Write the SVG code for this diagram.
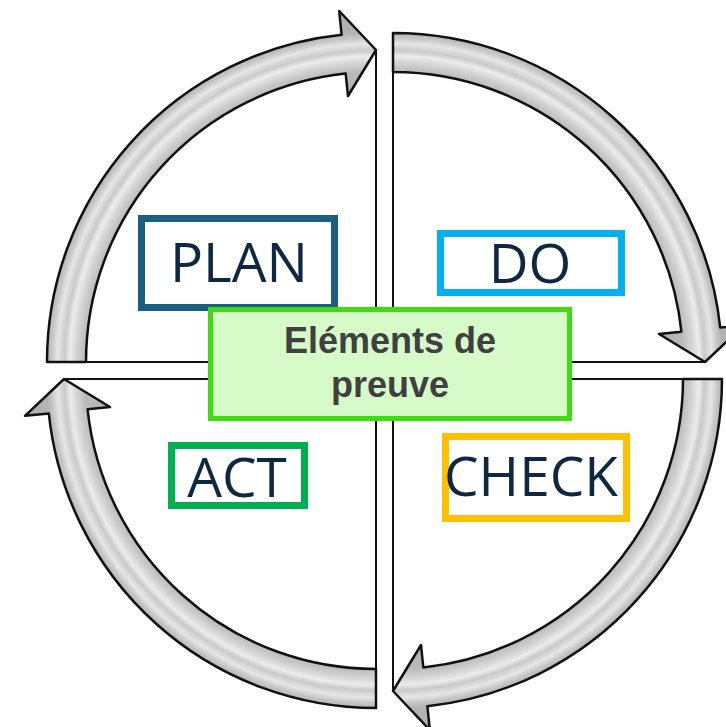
<svg xmlns="http://www.w3.org/2000/svg" width="726" height="727" viewBox="0 0 726 727">
  <defs>
    <radialGradient id="band" gradientUnits="userSpaceOnUse" cx="0" cy="0" r="360">
      <stop offset="0.74" stop-color="#b0b0b0"/>
      <stop offset="0.806" stop-color="#bababa"/>
      <stop offset="0.83" stop-color="#d2d2d2"/>
      <stop offset="0.85" stop-color="#ececec"/>
      <stop offset="0.865" stop-color="#cacaca"/>
      <stop offset="0.885" stop-color="#e6e6e6"/>
      <stop offset="0.9" stop-color="#c8c8c8"/>
      <stop offset="0.914" stop-color="#b4b4b4"/>
      <stop offset="0.98" stop-color="#aeaeae"/>
    </radialGradient>
    <path id="arrow" d="M -329,0 A 329 329 0 0 1 -34.4,-327.2 L -36.8,-351 L 0,-312 L -28,-266 L -30.3,-288.4 A 290 290 0 0 0 -290,0 Z"/>
    <path id="edges" d="M 0,-312 L 0,0 L -329,0"/>
  </defs>
  <style>
    .arr { fill: url(#band); stroke: #111111; stroke-width: 2.5; stroke-linejoin: round; }
    .edge { fill: none; stroke: #111111; stroke-width: 2; }
    .box { fill: #ffffff; stroke-width: 7; }
    .lbl { font-family: "Open Sans", "Noto Sans", sans-serif; font-size: 55px; fill: #0e2841; text-anchor: middle; }
    .ctr { font-family: "Liberation Sans", Arial, sans-serif; font-weight: bold; font-size: 36px; fill: #404040; text-anchor: middle; }
  </style>
  <rect width="726" height="727" fill="#ffffff"/>
  <g id="connectors">
    <g transform="translate(376,362)">
      <use href="#edges" class="edge"/>
      <use href="#arrow" class="arr"/>
    </g>
    <g transform="translate(393,362) rotate(90)">
      <use href="#edges" class="edge"/>
      <use href="#arrow" class="arr"/>
    </g>
    <g transform="translate(393,379) rotate(180)">
      <use href="#edges" class="edge"/>
      <use href="#arrow" class="arr"/>
    </g>
    <g transform="translate(376,379) rotate(270)">
      <use href="#edges" class="edge"/>
      <use href="#arrow" class="arr"/>
    </g>
  </g>
  <g id="plan">
    <rect class="box" x="141.5" y="218.5" width="193" height="89" stroke="#1a5f80"/>
    <text class="lbl" x="239" y="282">PLAN</text>
  </g>
  <g id="do">
    <rect class="box" x="440.5" y="233.5" width="181" height="59" stroke="#00b0f0"/>
    <text class="lbl" x="530" y="283">DO</text>
  </g>
  <g id="check">
    <rect class="box" x="445.5" y="436.5" width="181" height="82" stroke="#ffc000"/>
    <text class="lbl" x="531" y="496">CHECK</text>
  </g>
  <g id="act">
    <rect class="box" x="171.5" y="445.5" width="133" height="60" stroke="#00b050"/>
    <text class="lbl" x="237" y="497">ACT</text>
  </g>
  <g id="center">
    <rect x="210.5" y="309.5" width="359" height="109" fill="#d6fbc8" stroke="#3ddc10" stroke-width="5"/>
    <text class="ctr" x="390" y="353">Eléments de</text>
    <text class="ctr" x="390" y="397">preuve</text>
  </g>
</svg>
